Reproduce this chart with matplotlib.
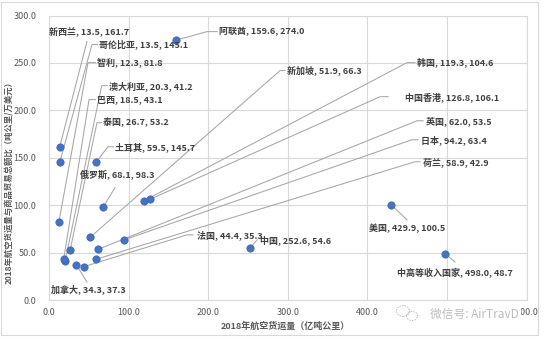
import matplotlib
matplotlib.use("Agg")
import matplotlib.pyplot as plt
from matplotlib.patches import Rectangle, Ellipse
from matplotlib.ticker import MultipleLocator, FormatStrFormatter

plt.rcParams['font.family'] = ['Noto Sans CJK SC', 'DejaVu Sans']

# 2018年各经济体航空货运量(亿吨公里)及其与商品贸易总额之比(吨公里/万美元)
names = ['新西兰', '哥伦比亚', '智利', '澳大利亚', '巴西', '泰国', '土耳其',
         '俄罗斯', '阿联酋', '新加坡', '韩国', '中国香港', '英国', '日本',
         '荷兰', '法国', '中国', '美国', '中高等收入国家', '加拿大']
cargo = [13.5, 13.5, 12.3, 20.3, 18.5, 26.7, 59.5,
         68.1, 159.6, 51.9, 119.3, 126.8, 62.0, 94.2,
         58.9, 44.4, 252.6, 429.9, 498.0, 34.3]
ratio = [161.7, 145.1, 81.8, 41.2, 43.1, 53.2, 145.7,
         98.3, 274.0, 66.3, 104.6, 106.1, 53.5, 63.4,
         42.9, 35.3, 54.6, 100.5, 48.7, 37.3]

# where each data label sits, and the bends of its leader line
label_layout = {
    '新西兰': (0, 282, 'left', [(47.7, 272.5)]),
    '哥伦比亚': (62.8, 269.4, 'left', [(54.0, 269.4), (61.0, 269.4)]),
    '智利': (60.3, 250.3, 'left', [(49.0, 250.3), (58.5, 250.3)]),
    '澳大利亚': (75.4, 226, 'left', [(66.2, 226), (73.5, 226)]),
    '巴西': (60.3, 211.3, 'left', [(50.3, 211.3), (58.5, 211.3)]),
    '泰国': (67.9, 187, 'left', [(60.3, 187), (66.0, 187)]),
    '土耳其': (82.9, 161.6, 'left', [(74.1, 161.6), (81.0, 161.6)]),
    '俄罗斯': (39.0, 132, 'left', [(82.9, 118.3)]),
    '阿联酋': (213.6, 283, 'left', [(198.5, 283), (211.5, 283)]),
    '新加坡': (299.2, 241.9, 'left', [(290.3, 241.9), (296.6, 241.9)]),
    '韩国': (462.4, 250.3, 'left', [(449.9, 250.3), (459.9, 250.3)]),
    '中国香港': (447.4, 214.4, 'left', [(416.0, 214.4), (426.0, 214.4)]),
    '英国': (473.7, 189, 'left', [(462.4, 189), (470.0, 189)]),
    '日本': (467.4, 169, 'left', [(456.1, 169), (463.7, 169)]),
    '荷兰': (469.9, 145.8, 'left', [(459.9, 145.8), (466.2, 145.8)]),
    '法国': (186.0, 68.7, 'left', [(173.4, 68.7), (181.0, 68.7)]),
    '中国': (265.0, 63.4, 'left', [(261.4, 63.4)]),
    '美国': (450.4, 76, 'center', [(449.9, 84.5)]),
    '中高等收入国家': (510.2, 28.5, 'center', [(510.2, 40.1)]),
    '加拿大': (2.5, 11.6, 'left', [(47.7, 19.0)]),
}

grid_c = '#D9D9D9'
text_c = '#595959'

fig = plt.figure(figsize=(5.45, 3.39), dpi=100)
ax = fig.add_axes([49 / 545, 39 / 339, 477.5 / 545, 284.5 / 339])

ax.set_xlim(0, 600)
ax.set_ylim(0, 300)
ax.xaxis.set_major_locator(MultipleLocator(100))
ax.yaxis.set_major_locator(MultipleLocator(50))
ax.xaxis.set_major_formatter(FormatStrFormatter('%.1f'))
ax.yaxis.set_major_formatter(FormatStrFormatter('%.1f'))
ax.grid(True, color=grid_c, linewidth=0.8)
ax.set_axisbelow(True)
for sp in ax.spines.values():
    sp.set_color(grid_c)
    sp.set_linewidth(0.8)
ax.tick_params(axis='both', length=0, labelsize=6.5, labelcolor=text_c)
ax.tick_params(axis='x', pad=6)
ax.tick_params(axis='y', pad=9)

# leader lines first, so points sit on top
for name, x, y in zip(names, cargo, ratio):
    tx, ty, ha, path = label_layout[name]
    xs = [x] + [p[0] for p in path]
    ys = [y] + [p[1] for p in path]
    ax.plot(xs, ys, color='#A6A6A6', linewidth=0.75, zorder=2, clip_on=False)
    ax.text(tx, ty, f'{name}, {x:.1f}, {y:.1f}', ha=ha, va='center',
            fontsize=6.5, fontweight='bold', color='#404040', zorder=4)

ax.scatter(cargo, ratio, s=28, color='#4472C4', edgecolors='#3A64B0',
           linewidths=0.5, zorder=3)

fig.text(285 / 545, 1 - 326 / 339, '2018年航空货运量（亿吨公里）', ha='center',
         va='center', fontsize=6.5, fontweight='bold', color=text_c)
fig.text(10 / 545, 1 - 180 / 339, '2018年航空货运量与商品贸易总额比（吨公里/万美元）',
         ha='center', va='center', rotation=90, fontsize=6.0,
         fontweight='bold', color=text_c)

# chart border
fig.patches.append(Rectangle((1 / 545, 4 / 339), 537 / 545, 333 / 339,
                             transform=fig.transFigure, fill=False,
                             edgecolor=grid_c, linewidth=0.8))

# watermark
fig.text(430 / 545, 1 - 314 / 339, '微信号: AirTravD', ha='left', va='center',
         fontsize=8.5, color='#BDBDBD', zorder=10,
         bbox=dict(facecolor='white', edgecolor='none', pad=1.5))
for cx, cy, w in [(403, 311, 13), (412, 316, 11)]:
    fig.patches.append(Ellipse((cx / 545, 1 - cy / 339), w / 545, (w - 2) / 339,
                               transform=fig.transFigure, fill=False,
                               edgecolor='#BDBDBD', linewidth=0.7,
                               linestyle=(0, (1.5, 1.2))))

fig.savefig('out.png', dpi=100)
